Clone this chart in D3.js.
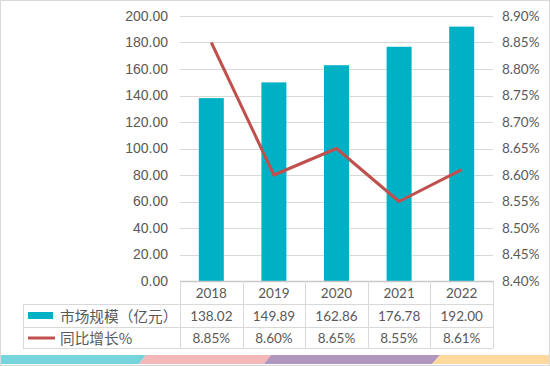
<!DOCTYPE html>
<html><head><meta charset="utf-8">
<script src="https://cdn.jsdelivr.net/npm/d3@7/dist/d3.min.js"></script>
<style>body{margin:0;background:#fff}svg{display:block}</style>
</head><body><svg id="c" width="550" height="366"></svg>
<script>
const years = ["2018","2019","2020","2021","2022"];
const marketSize = [138.02,149.89,162.86,176.78,192.00];
const growth = [8.85,8.60,8.65,8.55,8.61];
const leftTicks = [0,20,40,60,80,100,120,140,160,180,200];
const rightTicks = [8.40,8.45,8.50,8.55,8.60,8.65,8.70,8.75,8.80,8.85,8.90];
const seriesNames = ["市场规模（亿元）","同比增长%"];

const svg = d3.select("#c");
const W=550,H=366;
const plot={l:180,r:493,t:16,b:281};
const textCol="#595959";
const barColor="#00b1c6", lineColor="#c0504d", gridColor="#d9d9d9";

// outer border
svg.append("rect").attr("x",0.5).attr("y",0.5).attr("width",W-1).attr("height",H-1)
  .attr("fill","#fff").attr("stroke","#d9d9d9");

const x=d3.scaleBand().domain(years).range([plot.l,plot.r]).paddingInner(0).paddingOuter(0);
const yL=d3.scaleLinear().domain([0,200]).range([plot.b,plot.t]);
const yR=d3.scaleLinear().domain([8.40,8.90]).range([plot.b,plot.t]);

// gridlines
svg.append("g").selectAll("line").data(leftTicks.filter(d=>d>0)).join("line")
  .attr("x1",plot.l).attr("x2",plot.r).attr("y1",d=>Math.round(yL(d))+0.5).attr("y2",d=>Math.round(yL(d))+0.5)
  .attr("stroke",gridColor).attr("stroke-width",1);

// left axis
const la=svg.append("g").attr("transform",`translate(${plot.l-12},0)`)
  .call(d3.axisLeft(yL).tickValues(leftTicks).tickFormat(d3.format(".2f")).tickSize(0).tickPadding(0));
la.select(".domain").remove();
la.selectAll("text").attr("fill",textCol).style("font-family","'Liberation Sans',Arial,sans-serif").style("font-size","14px");

// right axis
const ra=svg.append("g").attr("transform",`translate(${plot.r+9},0)`)
  .call(d3.axisRight(yR).tickValues(rightTicks).tickFormat(d=>d.toFixed(2)+"%").tickSize(0).tickPadding(0));
ra.select(".domain").remove();
ra.selectAll("text").attr("fill",textCol).style("font-family","Lato,sans-serif").style("font-size","13.5px");

// bars
const bw=25;
svg.append("g").selectAll("rect").data(marketSize).join("rect")
  .attr("x",(d,i)=>x(years[i])+x.bandwidth()/2-bw/2).attr("width",bw)
  .attr("y",d=>yL(d)).attr("height",d=>yL(0)-yL(d)).attr("fill",barColor);

// line
const line=d3.line().x((d,i)=>x(years[i])+x.bandwidth()/2).y(d=>yR(d));
svg.append("path").datum(growth).attr("d",line).attr("fill","none")
  .attr("stroke",lineColor).attr("stroke-width",3).attr("stroke-linejoin","round");

// table
const rows=[281,304,327,348];
const tg=svg.append("g").attr("stroke",gridColor).attr("stroke-width",1).attr("fill","none");
tg.append("line").attr("x1",plot.l).attr("x2",plot.r).attr("y1",rows[0]+0.5).attr("y2",rows[0]+0.5).attr("stroke","#c8c8c8").attr("stroke-width",1.5);
[rows[1],rows[2],rows[3]].forEach(y=>{
  tg.append("line").attr("x1",23).attr("x2",plot.r).attr("y1",y+0.5).attr("y2",y+0.5);
});
const vx=[plot.l].concat(years.map(d=>x(d)+x.bandwidth()));
vx.forEach(v=>{
  tg.append("line").attr("x1",Math.round(v)+0.5).attr("x2",Math.round(v)+0.5).attr("y1",rows[0]).attr("y2",rows[3]);
});
tg.append("line").attr("x1",23.5).attr("x2",23.5).attr("y1",rows[1]).attr("y2",rows[3]);

const tt=svg.append("g").attr("fill",textCol).style("font-family","Lato,sans-serif").style("font-size","13.5px").attr("text-anchor","middle");
years.forEach((yr,i)=>{
  const cx=x(yr)+x.bandwidth()/2;
  tt.append("text").attr("x",cx).attr("y",(rows[0]+rows[1])/2+1).attr("dy","0.35em").text(yr);
  tt.append("text").attr("x",cx).attr("y",(rows[1]+rows[2])/2+1).attr("dy","0.35em").text(marketSize[i].toFixed(2));
  tt.append("text").attr("x",cx).attr("y",(rows[2]+rows[3])/2+1).attr("dy","0.35em").text(growth[i].toFixed(2)+"%");
});

// legend
svg.append("rect").attr("x",28).attr("y",312).attr("width",25).attr("height",7).attr("fill",barColor);
svg.append("line").attr("x1",28).attr("x2",55).attr("y1",338).attr("y2",338).attr("stroke",lineColor).attr("stroke-width",3);
const fs=14.67;
const lg=svg.append("g").attr("fill",textCol).style("font-family","'Noto Sans CJK SC',sans-serif").style("font-size",fs+"px");
lg.append("text").attr("x",Array.from(seriesNames[0]).map((c,i)=>(60+i*fs).toFixed(1)).join(" "))
  .attr("y",(rows[1]+rows[2])/2+1).attr("dy","0.35em").text(seriesNames[0]);
lg.append("text").attr("x",60).attr("y",(rows[2]+rows[3])/2+1).attr("dy","0.35em").text(seriesNames[1]);

// bottom decorative stripe
const sy0=355, sy1=364;
const stripe=[
  {c:"#76d4dd", pts:[[1,sy0],[146,sy0],[139,sy1],[1,sy1]]},
  {c:"#f4b8b9", pts:[[146,sy0],[271,sy0],[264,sy1],[139,sy1]]},
  {c:"#b196bf", pts:[[271,sy0],[440,sy0],[432,sy1],[264,sy1]]},
  {c:"#fdd9a0", pts:[[440,sy0],[549,sy0],[549,sy1],[432,sy1]]}
];
svg.append("g").selectAll("polygon").data(stripe).join("polygon")
  .attr("points",d=>d.pts.map(p=>p.join(",")).join(" ")).attr("fill",d=>d.c);
</script></body></html>
